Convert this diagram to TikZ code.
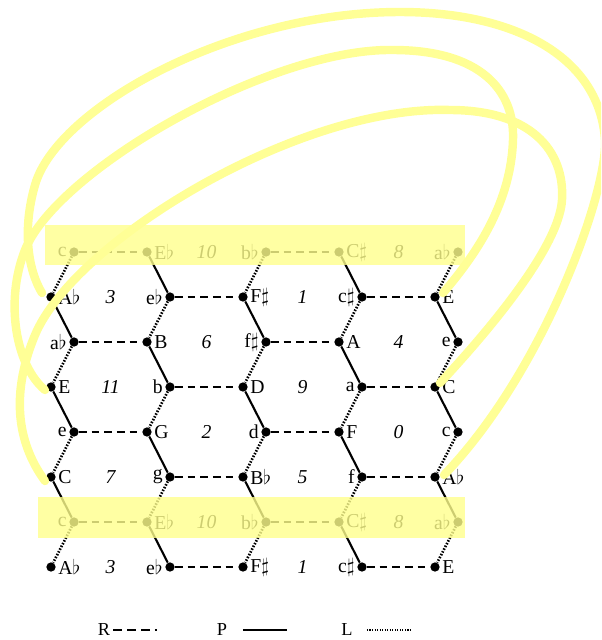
\documentclass[tikz,border=0pt]{standalone}
\usepackage{amsmath,amssymb}
\usepackage{fontspec}
\setmainfont{Liberation Serif}
\usetikzlibrary{calc}

\definecolor{hilite}{RGB}{255,255,140}
\definecolor{wrapcol}{RGB}{255,255,150}
\newcommand{\flt}{$\flat$}
\newcommand{\shp}{$\sharp$}

\begin{document}
\begin{tikzpicture}[x = 0.025cm, y = -0.025cm,
    dot/.style = {circle, fill = black, inner sep = 0pt, minimum size = 6.6pt},
    note/.style = {font = \fontsize{14}{16}\selectfont, inner sep = 1.5pt},
    num/.style = {font = \fontsize{14}{16}\selectfont\itshape},
    rmove/.style = {line width = 1.5pt, dash pattern = on 5.5pt off 3.5pt},
    pmove/.style = {line width = 1.5pt},
    lmove/.style = {line width = 1.9pt, dash pattern = on 1.1pt off 1.1pt},
    band/.style = {fill = hilite, fill opacity = 0.8},
    torus/.style = {draw = wrapcol, line width = 6pt, line cap = round},
    key/.style = {font = \fontsize{13}{15}\selectfont, inner sep = 2pt}]
        \useasboundingbox (0,0) rectangle (601,640);
        % points and names
        \foreach \r/\notes/\numA/\numB in {0/{c,E\flt,b\flt,C\shp,a\flt}/10/8,
            1/{A\flt,e\flt,F\shp,c\shp,E}/3/1, 2/{a\flt,B,f\shp,A,e}/6/4,
            3/{E,b,D,a,C}/11/9, 4/{e,G,d,F,c}/2/0, 5/{C,g,B\flt,f,A\flt}/7/5,
            6/{c,E\flt,b\flt,C\shp,a\flt}/10/8, 7/{A\flt,e\flt,F\shp,c\shp,E}/3/1}{
            \foreach \n [count = \cc from 0] in \notes {
                \pgfmathsetmacro{\xx}{74+192*floor(\cc/2)+73*mod(\cc,2)-23*mod(\r,2)*(1-2*mod(\cc,2))}
                \pgfmathsetmacro{\yy}{252+45*\r}
                \pgfmathtruncatemacro{\sd}{mod(\r+\cc,2)}
                \node[dot] (n-\r-\cc) at (\xx,\yy) {};
                \ifnum\sd=0
                    \node[note, anchor = east] (t-\r-\cc) at (n-\r-\cc.west) {\n};
                \else
                    \node[note, anchor = west] (t-\r-\cc) at (n-\r-\cc.east) {\n};
                \fi
            }
            % triad numbers
            \pgfmathtruncatemacro{\ja}{1-mod(\r,2)}
            \pgfmathtruncatemacro{\jb}{\ja+1}
            \pgfmathtruncatemacro{\jc}{\ja+2}
            \pgfmathtruncatemacro{\jd}{\ja+3}
            \node[num] (h-\r-a) at ($(n-\r-\ja)!0.5!(n-\r-\jb)$) {\numA};
            \node[num] (h-\r-b) at ($(n-\r-\jc)!0.5!(n-\r-\jd)$) {\numB};
            % R moves
            \pgfmathtruncatemacro{\ka}{mod(\r,2)}
            \pgfmathtruncatemacro{\kb}{\ka+1}
            \pgfmathtruncatemacro{\kc}{\ka+2}
            \pgfmathtruncatemacro{\kd}{\ka+3}
            \path[draw, rmove] (n-\r-\ka) -- (n-\r-\kb);
            \path[draw, rmove] (n-\r-\kc) -- (n-\r-\kd);
        }
        % P and L moves
        \foreach \r in {0,...,6}{
            \pgfmathtruncatemacro{\rr}{\r+1}
            \foreach \c in {0,...,4}{
                \pgfmathtruncatemacro{\sd}{mod(\r+\c,2)}
                \ifnum\sd=0
                    \path[draw, lmove] (n-\r-\c) -- (n-\rr-\c);
                \else
                    \path[draw, pmove] (n-\r-\c) -- (n-\rr-\c);
                \fi
            }
        }
        % repeated rows
        \path[band] (45,225) rectangle (465,265);
        \path[band] (38,497) rectangle (465,538);
        % wrap around
        \coordinate (w1a) at ($(n-1-0)+(-9,-4)$);
        \coordinate (w1b) at ($(n-5-4)+(9,-2)$);
        \coordinate (w2a) at ($(n-3-0)+(-6,3)$);
        \coordinate (w2b) at ($(n-1-4)+(8,-4)$);
        \coordinate (w3a) at ($(n-5-0)+(-6,4)$);
        \coordinate (w3b) at ($(n-3-4)+(5,-4)$);
        \begin{scope}
            \clip (0,0) rectangle (601,640);
            \path[torus] (w1a) .. controls (28,270) and (22,230) .. (35,185)
                .. controls (57,108) and (230,12) .. (400,12)
                .. controls (520,12) and (600,60) .. (605,140)
                .. controls (608,190) and (545,370) .. (w1b);
            \path[torus] (w2a) .. controls (15,365) and (5,300) .. (25,250)
                .. controls (57,170) and (270,48) .. (393,50)
                .. controls (480,50) and (515,90) .. (513,140)
                .. controls (511,200) and (480,250) .. (w2b);
            \path[torus] (w3a) .. controls (15,440) and (12,390) .. (35,335)
                .. controls (75,240) and (300,105) .. (450,110)
                .. controls (530,110) and (565,150) .. (562,200)
                .. controls (559,250) and (480,340) .. (w3b);
        \end{scope}
        % legend
        \node[key] (key-R) at (104,630) {R};
        \node[key] (key-P) at (222,630) {P};
        \node[key] (key-L) at (347,630) {L};
        \coordinate (key-R-end) at (157,630);
        \coordinate (key-P-end) at (287,630);
        \coordinate (key-L-end) at (410,630);
        \path[draw, line width = 1.8pt, dash pattern = on 6.4pt off 3.5pt] (key-R.east) -- (key-R-end);
        \path[draw, line width = 2pt] ([xshift = 9]key-P.east) -- (key-P-end);
        \path[draw, line width = 1.2pt, dash pattern = on 0.8pt off 1pt] ([xshift = 8]key-L.east) -- (key-L-end);
    \end{tikzpicture}
\end{document}
